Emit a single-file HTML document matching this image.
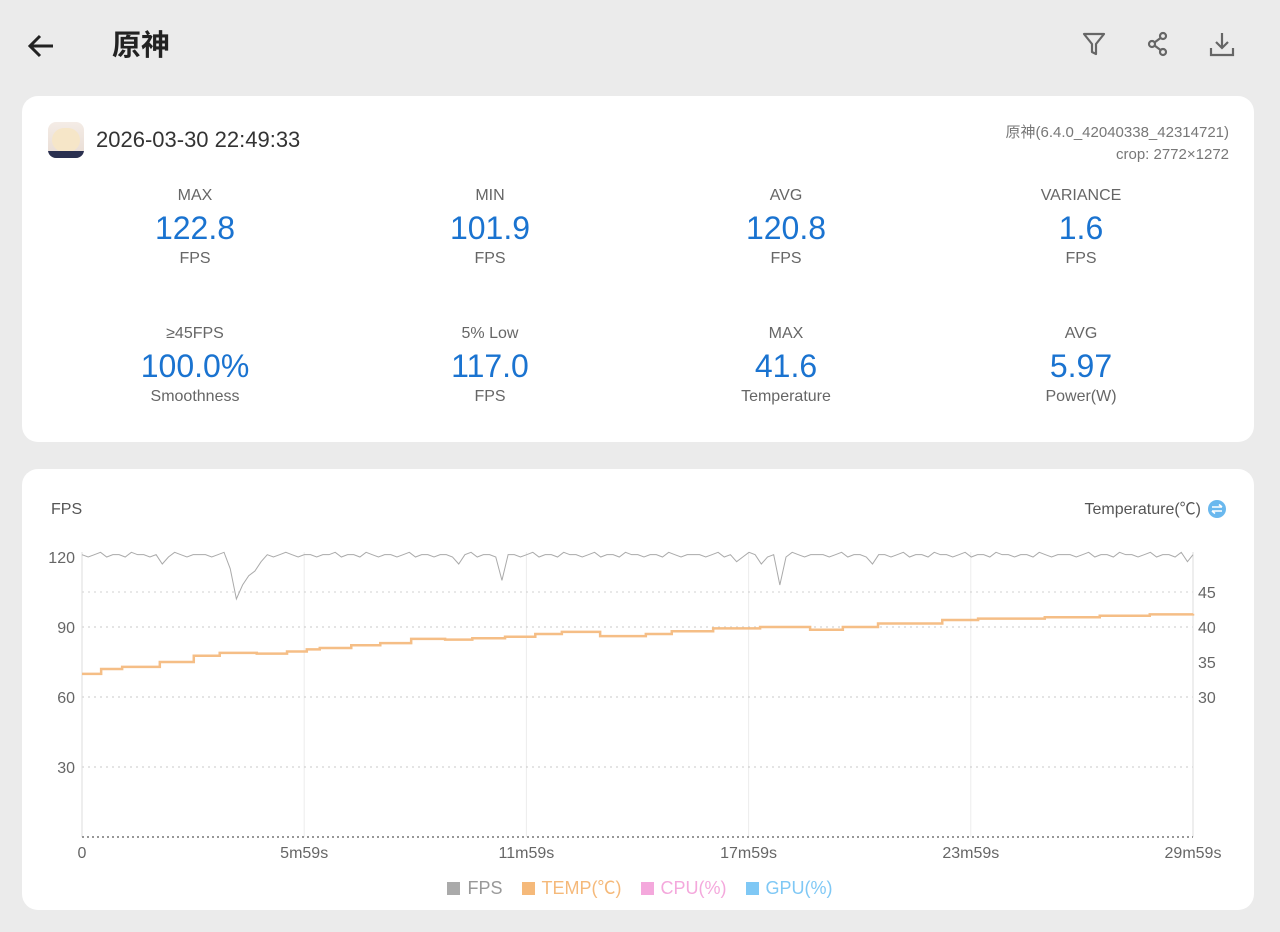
<!DOCTYPE html>
<html><head><meta charset="utf-8">
<style>
*{margin:0;padding:0;box-sizing:border-box}
body{width:1280px;height:932px;background:#ebebeb;font-family:"Liberation Sans","Noto Sans CJK SC",sans-serif;position:relative;overflow:hidden;color:#222}
.abs{position:absolute}
.card{position:absolute;background:#fff;border-radius:16px}
.stat{position:absolute;width:240px;height:90px;text-align:center}
.stat div{position:absolute;left:0;width:240px}
.stat .l{top:0;font-size:16px;line-height:20px;color:#666}
.stat .v{top:22px;font-size:32px;color:#1a73d0;line-height:40px}
.stat .u{top:63px;font-size:16px;line-height:20px;color:#666}
</style></head><body>
<svg class="abs" style="left:26px;top:32px" width="30" height="28" viewBox="0 0 30 28"><path d="M27 14H5M14 4L4 14l10 10" fill="none" stroke="#222" stroke-width="3"/></svg>
<div class="abs" style="left:112px;top:26px;font-size:29px;line-height:40px;font-weight:bold;color:#222">原神</div>
<svg class="abs" style="left:1080px;top:30px" width="28" height="28" viewBox="0 0 28 28"><path d="M4 4h20l-8 10v10l-4-2v-8z" fill="none" stroke="#666" stroke-width="2.2" stroke-linejoin="round"/></svg>
<svg class="abs" style="left:1144px;top:30px" width="28" height="28" viewBox="0 0 28 28"><g fill="none" stroke="#666" stroke-width="2.2"><circle cx="19" cy="6" r="3"/><circle cx="19" cy="22" r="3"/><circle cx="8" cy="14" r="3"/><path d="M10.5 12.5l6-4.5M10.5 15.5l6 4.5"/></g></svg>
<svg class="abs" style="left:1208px;top:30px" width="28" height="28" viewBox="0 0 28 28"><g fill="none" stroke="#666" stroke-width="2.2"><path d="M14 3v15M8 12l6 6 6-6M3 18v7h22v-7"/></g></svg>

<div class="card" style="left:22px;top:96px;width:1232px;height:346px"></div>
<div class="abs" style="left:48px;top:122px;width:36px;height:36px;border-radius:8px;background:linear-gradient(#f4ece6,#e8dcd4);overflow:hidden"><div style="position:absolute;left:4px;top:6px;width:28px;height:24px;border-radius:12px;background:#f6e6c8"></div><div style="position:absolute;left:0;bottom:0;width:36px;height:7px;background:#2a3050"></div></div>
<div class="abs" style="left:96px;top:127px;font-size:22px;line-height:26px;color:#333">2026-03-30 22:49:33</div>
<div class="abs" style="right:51px;top:122px;font-size:15px;color:#777;text-align:right;line-height:22px">原神(6.4.0_42040338_42314721)<br>crop: 2772×1272</div>

<div class="stat" style="left:75px;top:186px"><div class="l">MAX</div><div class="v">122.8</div><div class="u">FPS</div></div>
<div class="stat" style="left:370px;top:186px"><div class="l">MIN</div><div class="v">101.9</div><div class="u">FPS</div></div>
<div class="stat" style="left:666px;top:186px"><div class="l">AVG</div><div class="v">120.8</div><div class="u">FPS</div></div>
<div class="stat" style="left:961px;top:186px"><div class="l">VARIANCE</div><div class="v">1.6</div><div class="u">FPS</div></div>
<div class="stat" style="left:75px;top:324px"><div class="l">≥45FPS</div><div class="v">100.0%</div><div class="u">Smoothness</div></div>
<div class="stat" style="left:370px;top:324px"><div class="l">5% Low</div><div class="v">117.0</div><div class="u">FPS</div></div>
<div class="stat" style="left:666px;top:324px"><div class="l">MAX</div><div class="v">41.6</div><div class="u">Temperature</div></div>
<div class="stat" style="left:961px;top:324px"><div class="l">AVG</div><div class="v">5.97</div><div class="u">Power(W)</div></div>

<div class="card" style="left:22px;top:469px;width:1232px;height:441px"></div>
<div class="abs" style="left:51px;top:500px;font-size:16px;line-height:20px;color:#555">FPS</div>
<div class="abs" style="right:79px;top:500px;font-size:16px;line-height:20px;color:#555">Temperature(℃)</div>
<svg class="abs" style="left:1207px;top:499px" width="20" height="20" viewBox="0 0 20 20"><circle cx="10" cy="10" r="9" fill="#6ab8ee"/><path d="M5 8h10M12 5.5L15 8M5 12h10M8 14.5L5 12" stroke="#fff" stroke-width="1.6" fill="none"/></svg>

<svg id="chart" class="abs" style="left:0;top:0" width="1280" height="932"></svg>

<div class="abs" style="left:0;width:1280px;top:876px;line-height:24px;text-align:center;font-size:18px;white-space:nowrap">
<span style="color:#999"><span style="display:inline-block;width:13px;height:13px;background:#aaa;vertical-align:-1px;margin-right:7px"></span>FPS</span>
<span style="color:#f5b97a;margin-left:14px"><span style="display:inline-block;width:13px;height:13px;background:#f5b97a;vertical-align:-1px;margin-right:7px"></span>TEMP(℃)</span>
<span style="color:#f4a8dc;margin-left:14px"><span style="display:inline-block;width:13px;height:13px;background:#f4a8dc;vertical-align:-1px;margin-right:7px"></span>CPU(%)</span>
<span style="color:#7fc8f5;margin-left:14px"><span style="display:inline-block;width:13px;height:13px;background:#7fc8f5;vertical-align:-1px;margin-right:7px"></span>GPU(%)</span>
</div>

<script>
const duration = 1799;
const fpsStep = 10;
const fpsValues = [
121,120,121,122,120,121,121,120,122,121,121,120,121,117,120,122,121,120,121,121,
121,120,121,122,115,102,108,112,114,118,121,120,121,122,121,120,121,121,120,121,
121,122,120,121,121,120,122,121,120,121,121,120,121,122,120,121,121,120,121,121,
120,117,121,122,120,121,121,120,110,121,121,120,121,122,120,121,121,120,122,121,
121,120,121,122,120,121,121,120,122,121,121,120,121,121,120,122,121,120,121,121,
121,120,121,122,120,121,118,120,122,121,117,120,121,108,120,122,121,120,121,121,
121,120,121,122,120,121,121,120,117,121,121,120,121,122,120,121,121,120,122,121,
121,120,121,122,120,121,121,120,122,121,121,120,121,121,120,122,121,120,121,121,
121,120,121,122,120,121,121,120,122,121,121,120,121,122,120,121,121,120,122,118,121
];
const tempTimes = [0,29,31,65,126,181,223,283,332,364,385,436,483,533,588,632,685,734,777,839,913,955,1022,1098,1179,1232,1289,1393,1451,1559,1648,1729,1799];
const tempValues = [33.3,33.3,34.0,34.3,35.0,35.9,36.3,36.2,36.5,36.8,37.0,37.4,37.7,38.3,38.2,38.4,38.6,39.0,39.3,38.7,39.0,39.4,39.8,40.0,39.6,40.0,40.5,41.0,41.2,41.4,41.6,41.8,41.9];
const fpsTicks = [30,60,90,120];
const tempTicks = [30,35,40,45];
const xTickLabels = ["0","5m59s","11m59s","17m59s","23m59s","29m59s"];

const X0=82,X1=1193,Y0=837,Y1=557;
const xs = t => X0 + t/duration*(X1-X0);
const yFps = v => Y0 - v/120*(Y0-Y1);
const yTemp = T => Y0 - (T-10)/40*(Y0-Y1);
const svg = document.getElementById('chart');
const NS='http://www.w3.org/2000/svg';
function mk(tag, attrs){const e=document.createElementNS(NS,tag);for(const k in attrs)e.setAttribute(k,attrs[k]);svg.appendChild(e);return e;}

for(let i=1;i<xTickLabels.length-1;i++){
  const x=X0+i*(X1-X0)/(xTickLabels.length-1);
  const g=mk('line',{x1:x,x2:x,y1:Y1-5,y2:Y0,stroke:'#ececec','stroke-width':1});
  
  
}
for(const v of fpsTicks){
  if(v<120){
    const g=mk('line',{x1:X0,x2:X1,y1:yFps(v),y2:yFps(v),stroke:'#c8c8c8','stroke-dasharray':'2 4','stroke-width':1});
    
    
  }
  const t=mk('text',{x:75,y:yFps(v)+6,'text-anchor':'end','font-size':16,fill:'#666','font-family':'Liberation Sans, sans-serif'});
  t.textContent=v;
  
  
}
for(const T of tempTicks){
  if(T===45){
    const g=mk('line',{x1:X0,x2:X1,y1:yTemp(T),y2:yTemp(T),stroke:'#d0d0d0','stroke-dasharray':'2 4','stroke-width':1});
    
    
  }
  const t=mk('text',{x:1198,y:yTemp(T)+6,'font-size':16,fill:'#666','font-family':'Liberation Sans, sans-serif'});
  t.textContent=T;
  
  
}
const ax1=mk('line',{x1:X0,x2:X0,y1:Y1-5,y2:Y0,stroke:'#ddd'});


const ax2=mk('line',{x1:X1,x2:X1,y1:Y1-5,y2:Y0,stroke:'#ddd'});


const base=mk('line',{x1:X0,x2:X1,y1:Y0,y2:Y0,stroke:'#777','stroke-dasharray':'2 3','stroke-width':1.5});



xTickLabels.forEach((lab,i)=>{
  const x=X0+i*(X1-X0)/(xTickLabels.length-1);
  const t=mk('text',{x:x,y:858,'text-anchor':'middle','font-size':16,fill:'#666','font-family':'Liberation Sans, sans-serif'});
  t.textContent=lab;
  
  
});

let d='';
for(let i=0;i<tempTimes.length;i++){
  const x=xs(tempTimes[i]),y=yTemp(tempValues[i]);
  if(i===0)d+='M'+x+' '+y;else d+='H'+x+'V'+y;
}
const tp=mk('path',{d:d,fill:'none',stroke:'#f5be86','stroke-width':2.5});



let fd='';
fpsValues.forEach((v,i)=>{const t=Math.min(i*fpsStep,duration);fd+=(i?'L':'M')+xs(t)+' '+yFps(v);});
const fp=mk('path',{d:fd,fill:'none',stroke:'#aaa','stroke-width':1});


</script>
</body></html>
